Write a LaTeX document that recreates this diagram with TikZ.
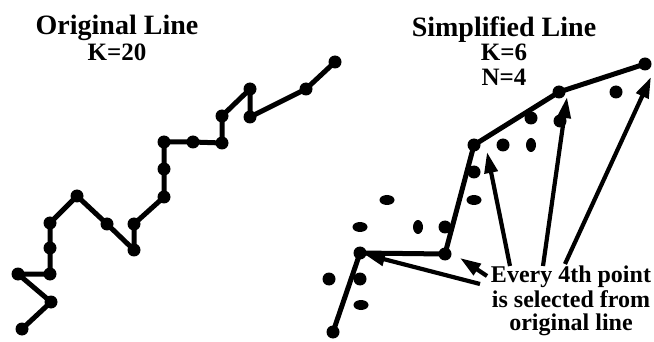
\documentclass[tikz,border=0pt]{standalone}
\usepackage{fontspec}
\setmainfont{Liberation Serif}
\usetikzlibrary{arrows.meta,shapes.geometric}
\begin{document}
\begin{tikzpicture}[x=1pt,y=-1pt,
  dot/.style={circle,fill=black,inner sep=0pt,minimum size=13pt},
  hdot/.style={ellipse,fill=black,inner sep=0pt,minimum width=15pt,minimum height=10pt},
  vdot/.style={ellipse,fill=black,inner sep=0pt,minimum width=10pt,minimum height=14pt},
  polyline/.style={line width=5pt,line join=round,line cap=round},
  pointer/.style={line width=4.2pt,-{Triangle[length=21pt,width=13pt]}},
  title/.style={anchor=base,font=\bfseries\fontsize{28}{30}\selectfont},
  param/.style={anchor=base,font=\bfseries\fontsize{25}{27}\selectfont},
  note/.style={anchor=base,font=\bfseries\fontsize{24}{24}\selectfont}]
\useasboundingbox (0,0) rectangle (654,342);

% ---------- original line, K = 20 ----------
\node[title] (ttlA) at (117,35) {Original Line};
\node[param] (kA) at (117,61) {K=20};

\foreach \n/\x/\y in {1/22/329,2/51/302,3/18/274,4/50/274,5/50/248,
    6/50/223,7/77/196,8/107/224,9/134/250,10/134/224,11/164/197,
    12/164/169,13/164/142,14/193/142,15/222/143,16/222/116,17/250/89,
    18/250/117,19/306/89,20/335/62}
  \node[dot] (o\n) at (\x,\y) {};
\draw[polyline] (o1.center) -- (o2.center) -- (o3.center) -- (o4.center)
  -- (o5.center) -- (o6.center) -- (o7.center) -- (o8.center) -- (o9.center)
  -- (o10.center) -- (o11.center) -- (o12.center) -- (o13.center)
  -- (o14.center) -- (o15.center) -- (o16.center) -- (o17.center)
  -- (o18.center) -- (o19.center) -- (o20.center);

% ---------- simplified line, K = 6, N = 4 ----------
\node[title] (ttlB) at (504,37) {Simplified Line};
\node[param] (kB) at (504,61) {K=6};
\node[param] (nB) at (504,86) {N=4};

% kept points (every 4th)
\foreach \n/\x/\y in {1/333/332,5/360/253,9/445/254,13/474/145,17/559/92,20/645/64}
  \node[dot] (s\n) at (\x,\y) {};
% dropped points
\foreach \n/\x/\y in {3/329/279,4/360/279,10/445/227,12/474/172,14/503/145,
    16/531/118,18/560/121,19/616/92}
  \node[dot] (s\n) at (\x,\y) {};
\foreach \n/\x/\y in {2/361/305,6/360/227,7/387/200,11/474/200}
  \node[hdot] (s\n) at (\x,\y) {};
\foreach \n/\x/\y in {8/418/227,15/531/145}
  \node[vdot] (s\n) at (\x,\y) {};

\draw[polyline] (s1.center) -- (s5.center) -- (s9.center) -- (s13.center)
  -- (s17.center) -- (s20.center);

% ---------- annotation ----------
\node[note] (l1) at (571,283) {Every 4th point};
\node[note] (l2) at (571,307) {is selected from};
\node[note] (l3) at (571,330) {original line};

\coordinate (a1s) at (480,284);  \coordinate (a1e) at (364,254);
\coordinate (a2s) at (487,276);  \coordinate (a2e) at (460,258);
\coordinate (a3s) at (510,266);  \coordinate (a3e) at (487,152);
\coordinate (a4s) at (543,266);  \coordinate (a4e) at (567,97);
\coordinate (a5s) at (565,264);  \coordinate (a5e) at (651,77);
\draw[pointer] (a1s) -- (a1e);
\draw[pointer] (a2s) -- (a2e);
\draw[pointer] (a3s) -- (a3e);
\draw[pointer] (a4s) -- (a4e);
\draw[pointer] (a5s) -- (a5e);
\end{tikzpicture}
\end{document}
